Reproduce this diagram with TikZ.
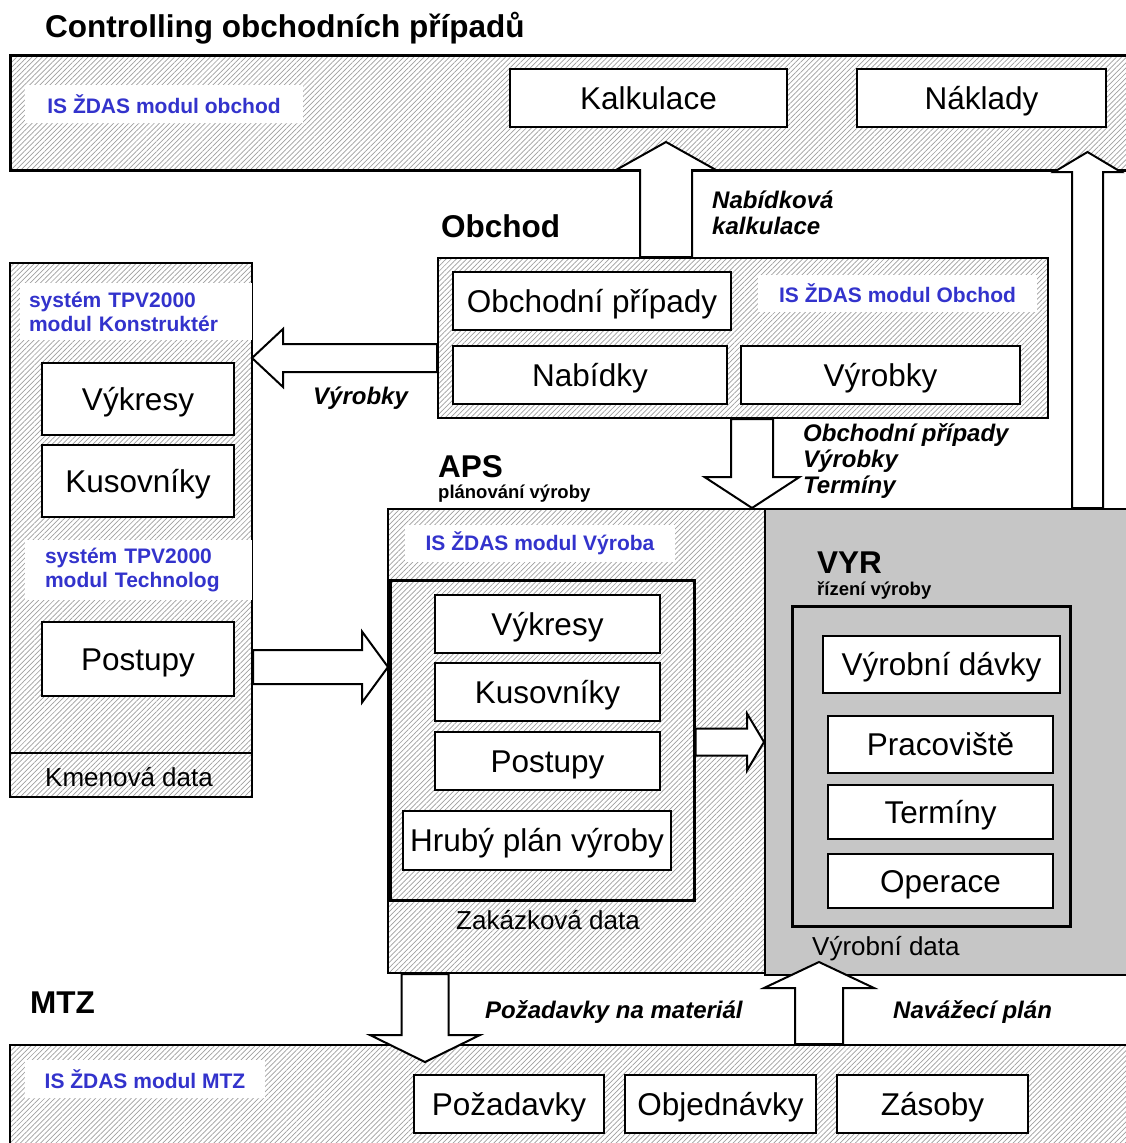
\documentclass[tikz,border=0pt]{standalone}
\usepackage{fontspec}
\setmainfont{Liberation Sans}
\usepackage{tikz}
\usetikzlibrary{calc,patterns.meta}
\definecolor{isblue}{RGB}{51,51,204}
\newcommand{\boxfont}{\fontsize{31.5}{37}\selectfont}
\newcommand{\headfont}{\fontsize{31.5}{37}\selectfont\bfseries}
\newcommand{\subfont}{\fontsize{18.5}{22}\selectfont\bfseries}
\newcommand{\lblfont}{\fontsize{21}{24}\selectfont\bfseries\color{isblue}}
\newcommand{\flowfont}{\fontsize{24}{26}\selectfont\bfseries\itshape}
\newcommand{\datafont}{\fontsize{26}{30}\selectfont}
\tikzset{
  box/.style={draw,line width=2pt,fill=white,inner sep=0pt,font=\boxfont,text height=23pt,text depth=1pt},
  hatch/.style={draw,line width=2pt,inner sep=0pt,preaction={fill=white},pattern={Lines[angle=45,distance=3.6pt,line width=0.7pt]},pattern color=gray!75},
  vyrfill/.style={draw,line width=2pt,inner sep=0pt,fill=gray!45},
  lbl/.style={fill=white,inner sep=0pt,font=\lblfont},
  txt/.style={anchor=west,inner sep=0pt},
  blk/.style={draw,line width=2pt,fill=white,line join=miter},
}
% block arrow: tail, tip, shaft half width, head half width, head length
\newcommand{\blockarrow}[5]{%
  \coordinate (ahb) at ($(#2)!#5!(#1)$);
  \draw[blk] ($(#1)!#3!90:(#2)$) -- ($(ahb)!#3!90:(#2)$) -- ($(ahb)!#4!90:(#2)$) -- (#2)
    -- ($(ahb)!#4!-90:(#2)$) -- ($(ahb)!#3!-90:(#2)$) -- ($(#1)!#3!-90:(#2)$) -- cycle;}
\begin{document}
\begin{tikzpicture}[x=1pt,y=-1pt]
\useasboundingbox (0,0) rectangle (1126,1143);
% controlling
\node[txt,font=\headfont] (ctitle) at (45,28) {Controlling obchodních případů};
\node[hatch,line width=3pt,minimum width=1125pt,minimum height=115pt] (topband) at (572.5,112.5) {};
\node[lbl,minimum width=278pt,minimum height=38pt] (lblobch) at (164,104) {IS ŽDAS modul obchod};
\node[box,minimum width=277pt,minimum height=58pt] (kalk) at (648.5,98) {Kalkulace};
\node[box,minimum width=249pt,minimum height=58pt] (naklady) at (981.5,98) {Náklady};

% obchod
\node[txt,font=\headfont] (obtitle) at (441,226) {Obchod};
\node[hatch,minimum width=610pt,minimum height=160pt] (obchod) at (743,338) {};
\node[lbl,minimum width=279pt,minimum height=37pt] (lblob) at (897.5,293.5) {IS ŽDAS modul Obchod};
\node[box,minimum width=278pt,minimum height=58pt] (obpripady) at (592,301) {Obchodní případy};
\node[box,minimum width=274pt,minimum height=58pt] (nabidky) at (590,375) {Nabídky};
\node[box,minimum width=279pt,minimum height=58pt] (vyrobky) at (880.5,375) {Výrobky};

% TPV2000
\node[hatch,minimum width=242pt,minimum height=534pt] (tpv) at (131,530) {};
\node[lbl,minimum height=57pt,inner xsep=9pt,text width=214pt,align=left] (lblkon) at (136,311.5) {systém TPV2000\\modul Konstruktér};
\node[lbl,minimum height=60pt,inner xsep=20pt,text width=187pt,align=left] (lbltech) at (138.5,570) {systém TPV2000\\modul Technolog};
\node[box,minimum width=192pt,minimum height=72pt] (vykresyK) at (138,399) {Výkresy};
\node[box,minimum width=192pt,minimum height=72pt] (kusovK) at (138,481) {Kusovníky};
\node[box,minimum width=192pt,minimum height=74pt] (postupyK) at (138,659) {Postupy};
\coordinate (kmen) at (10,753);
\draw[line width=2pt] (kmen) -- (kmen -| tpv.east);
\node[txt,font=\datafont] (kmendata) at (45,777) {Kmenová data};

% APS
\node[txt,font=\headfont] (apstitle) at (438,467) {APS};
\node[txt,font=\subfont] (apssub) at (438,494) {plánování výroby};
\node[hatch,minimum width=377pt,minimum height=464pt] (aps) at (576.5,741) {};
\node[lbl,minimum width=270pt,minimum height=37pt] (lblvyr) at (540,543.5) {IS ŽDAS modul Výroba};
\node[hatch,line width=3pt,minimum width=304pt,minimum height=320pt] (apsin) at (542,740) {};
\node[box,minimum width=225pt,minimum height=58pt] (vykresyA) at (547.5,624) {Výkresy};
\node[box,minimum width=225pt,minimum height=58pt] (kusovA) at (547.5,692) {Kusovníky};
\node[box,minimum width=225pt,minimum height=58pt] (postupyA) at (547.5,761) {Postupy};
\node[box,minimum width=268pt,minimum height=59pt] (hruby) at (537,840.5) {Hrubý plán výroby};
\node[txt,font=\datafont] (zakdata) at (456,920) {Zakázková data};

% VYR
\node[vyrfill,minimum width=370pt,minimum height=466pt] (vyr) at (950,742) {};
\node[txt,font=\headfont] (vyrtitle) at (817,563) {VYR};
\node[txt,font=\subfont] (vyrsub) at (817,591) {řízení výroby};
\node[vyrfill,line width=3pt,minimum width=278pt,minimum height=320pt] (vyrin) at (931,766) {};
\node[box,minimum width=237pt,minimum height=57pt] (davky) at (941.5,664.5) {Výrobní dávky};
\node[box,minimum width=225pt,minimum height=57pt] (pracov) at (940.5,744.5) {Pracoviště};
\node[box,minimum width=225pt,minimum height=54pt] (terminy) at (940.5,812) {Termíny};
\node[box,minimum width=225pt,minimum height=54pt] (operace) at (940.5,881) {Operace};
\node[txt,font=\datafont] (vyrdata) at (812,949) {Výrobní data};

% MTZ
\node[txt,font=\headfont] (mtztitle) at (30,1003) {MTZ};
\node[hatch,minimum width=1125pt,minimum height=110pt] (mtzband) at (572.5,1100) {};
\node[lbl,minimum width=240pt,minimum height=38pt] (lblmtz) at (145,1079) {IS ŽDAS modul MTZ};
\node[box,minimum width=190pt,minimum height=58pt] (pozad) at (509,1104) {Požadavky};
\node[box,minimum width=191pt,minimum height=58pt] (objed) at (720.5,1104) {Objednávky};
\node[box,minimum width=191pt,minimum height=58pt] (zasoby) at (932.5,1104) {Zásoby};

% toky
\coordinate (kalktip) at (666,142);
\coordinate (kalktail) at (kalktip |- obchod.north);
\blockarrow{kalktail}{kalktip}{26pt}{50pt}{28pt}
\node[txt,font=\flowfont,align=left] (fkalk) at (712,213) {Nabídková\\kalkulace};

\coordinate (naktip) at (1087.5,152);
\coordinate (naktail) at (naktip |- vyr.north);
\blockarrow{naktail}{naktip}{15.5pt}{33.5pt}{20pt}

\coordinate (vyrtip) at (252,358);
\coordinate (vyrtail) at (vyrtip -| obchod.west);
\blockarrow{vyrtail}{vyrtip}{14pt}{29pt}{31pt}
\node[txt,font=\flowfont] (fvyr) at (313,398) {Výrobky};

\coordinate (optip) at (752,508);
\coordinate (optail) at (optip |- obchod.south);
\blockarrow{optail}{optip}{21pt}{47.5pt}{31pt}
\node[txt,font=\flowfont,align=left] (fop) at (803,461) {Obchodní případy\\Výrobky\\Termíny};

\coordinate (posttip) at (388,667);
\coordinate (posttail) at (posttip -| tpv.east);
\blockarrow{posttail}{posttip}{17pt}{35.5pt}{26pt}

\coordinate (apvtail) at (vyr.west -| apsin.east);
\blockarrow{apvtail}{vyr.west}{13.5pt}{28.5pt}{17pt}

\coordinate (pozadtip) at (425,1062);
\coordinate (pozadtail) at (pozadtip |- aps.south);
\blockarrow{pozadtail}{pozadtip}{23.5pt}{55pt}{27pt}
\node[txt,font=\flowfont] (fpoz) at (485,1012) {Požadavky na materiál};

\coordinate (navtip) at (819,962);
\coordinate (navtail) at (navtip |- mtzband.north);
\blockarrow{navtail}{navtip}{24pt}{55pt}{26pt}
\node[txt,font=\flowfont] (fnav) at (893,1012) {Navážecí plán};
\end{tikzpicture}
\end{document}
